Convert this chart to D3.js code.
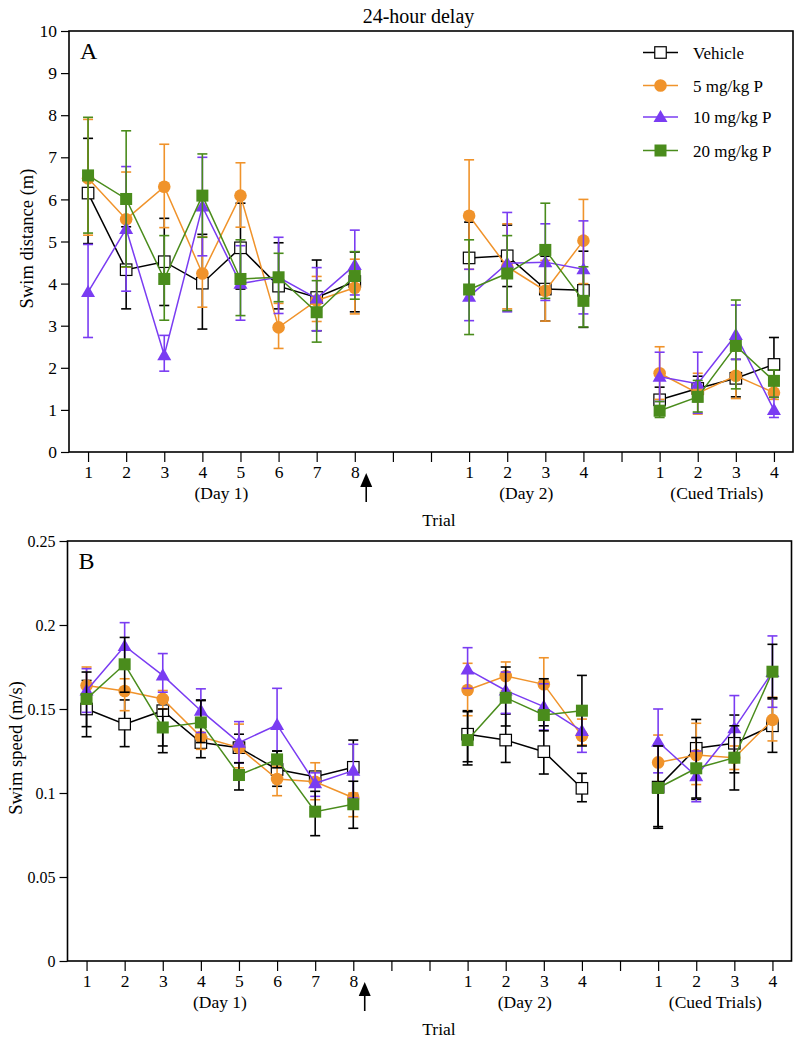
<!DOCTYPE html>
<html><head><meta charset="utf-8">
<script src="https://cdn.jsdelivr.net/npm/d3@7/dist/d3.min.js"></script>
<style>body{margin:0;background:#fff}svg, svg text{font-family:"Liberation Serif","Times New Roman",Times,"DejaVu Serif",serif !important}</style>
</head><body>
<svg id="chart" width="800" height="1043"></svg>
<script>
// ---------- data ----------
const trialLabels = ["1","2","3","4","5","6","7","8","1","2","3","4","1","2","3","4"];
const trialPositions = [1,2,3,4,5,6,7,8,11,12,13,14,16,17,18,19];
const groupLabels = ["(Day 1)","(Day 2)","(Cued Trials)"];
const groupRanges = [[0,8],[8,12],[12,16]];
const seriesNames = ["Vehicle","5 mg/kg P","10 mg/kg P","20 mg/kg P"];
const seriesColors = ["#000000","#f0932b","#7a3cf2","#4a8c1c"];
const distTicks = [0,1,2,3,4,5,6,7,8,9,10];
const speedTicks = [0,0.05,0.1,0.15,0.2,0.25];

// Panel A: swim distance (m)
const distVehicle   = [6.15,4.33,4.52,4.01,4.85,3.94,3.67,4.05, 4.61,4.66,3.87,3.84, 1.24,1.51,1.75,2.08];
const distVehicleHi = [7.45,5.35,5.55,5.17,5.91,4.97,4.56,4.75, 5.46,5.39,4.65,4.77, 1.54,1.80,2.20,2.72];
const distVehicleLo = [4.95,3.40,3.48,2.92,3.87,3.40,2.88,3.33, 3.75,3.93,3.11,2.96, 0.95,1.20,1.31,1.45];
const dist5   = [6.50,5.53,6.30,4.24,6.09,2.96,3.60,3.90, 5.61,4.40,3.83,5.02, 1.87,1.40,1.81,1.41];
const dist5Hi = [7.90,6.65,7.31,5.11,6.87,3.53,4.17,4.58, 6.94,5.42,4.55,6.00, 2.50,1.87,2.40,1.60];
const dist5Lo = [5.15,4.39,5.33,3.44,5.34,2.46,3.10,3.28, 4.34,3.40,3.11,4.00, 1.25,0.90,1.27,1.25];
const dist10   = [3.80,5.30,2.30,5.83,4.00,4.15,3.65,4.44, 3.69,4.48,4.51,4.34, 1.79,1.62,2.78,1.00];
const dist10Hi = [4.93,6.78,2.77,7.00,4.90,5.10,4.38,5.27, 4.34,5.69,5.42,5.49, 2.37,2.37,3.49,1.30];
const dist10Lo = [2.72,3.82,1.92,4.66,3.13,3.29,2.88,3.73, 3.12,3.33,3.60,3.28, 1.20,0.92,2.20,0.82];
const dist20   = [6.57,6.01,4.11,6.09,4.11,4.15,3.32,4.18, 3.86,4.24,4.80,3.59, 0.98,1.31,2.52,1.69];
const dist20Hi = [7.95,7.63,5.14,7.08,5.04,4.72,4.07,4.76, 5.04,5.14,5.91,4.40, 1.20,1.70,3.61,1.95];
const dist20Lo = [5.20,4.40,3.13,5.10,3.24,3.57,2.61,3.63, 2.79,3.36,3.65,2.97, 0.82,0.95,1.50,1.30];

// Panel B: swim speed (m/s)
const speedVehicle   = [0.150,0.141,0.149,0.130,0.127,0.114,0.1097,0.1153, 0.135,0.1315,0.1246,0.1028, 0.1035,0.1266,0.1296,0.140];
const speedVehicleHi = [0.167,0.1554,0.154,0.1554,0.135,0.125,0.112,0.1315, 0.149,0.147,0.140,0.1117, 0.129,0.1438,0.1464,0.156];
const speedVehicleLo = [0.1335,0.1276,0.124,0.121,0.118,0.104,0.105,0.099, 0.1167,0.1182,0.1113,0.0948, 0.079,0.0962,0.1018,0.1242];
const speed5   = [0.164,0.1607,0.156,0.1335,0.127,0.1083,0.1067,0.0972, 0.1613,0.1696,0.1647,0.134, 0.1182,0.1226,0.121,0.1435];
const speed5Hi = [0.175,0.168,0.161,0.141,0.141,0.116,0.118,0.100, 0.1772,0.178,0.1805,0.144, 0.1345,0.1415,0.128,0.157];
const speed5Lo = [0.153,0.149,0.150,0.126,0.115,0.0984,0.096,0.0859, 0.146,0.161,0.149,0.1286, 0.102,0.105,0.114,0.131];
const speed10   = [0.161,0.1875,0.170,0.149,0.130,0.1405,0.1058,0.1133, 0.1736,0.161,0.1514,0.137, 0.1305,0.110,0.1385,0.172];
const speed10Hi = [0.174,0.2014,0.183,0.162,0.1425,0.1623,0.112,0.129, 0.1865,0.172,0.165,0.149, 0.150,0.125,0.158,0.1935];
const speed10Lo = [0.148,0.174,0.160,0.136,0.118,0.120,0.098,0.097, 0.1623,0.1474,0.1375,0.1242, 0.112,0.0948,0.120,0.151];
const speed20   = [0.156,0.1766,0.139,0.142,0.1107,0.120,0.0889,0.0933, 0.1315,0.1567,0.1464,0.149, 0.1030,0.1147,0.121,0.1722];
const speed20Hi = [0.172,0.1926,0.150,0.155,0.118,0.125,0.101,0.107, 0.1484,0.175,0.168,0.170, 0.128,0.133,0.140,0.1885];
const speed20Lo = [0.1395,0.160,0.128,0.130,0.1018,0.115,0.0746,0.079, 0.1186,0.1399,0.137,0.128, 0.080,0.097,0.112,0.1567];

// ---------- drawing ----------
const FONT = "Liberation Serif, Times New Roman, Times, DejaVu Serif, serif";
const FS = 17.5;
const svg = d3.select("#chart").attr("font-family", FONT);
const symbols = ["openSquare","circle","triangle","square"];

function drawMarker(g, type, color, x, y){
  if(type==="openSquare"){
    g.append("rect").attr("x",x-5.75).attr("y",y-5.75).attr("width",11.5).attr("height",11.5)
      .attr("fill","#fff").attr("stroke","#000").attr("stroke-width",1.2);
  } else if(type==="circle"){
    g.append("circle").attr("cx",x).attr("cy",y).attr("r",6.3).attr("fill",color);
  } else if(type==="triangle"){
    const s=d3.symbol().type(d3.symbolTriangle).size(85);
    g.append("path").attr("d",s()).attr("transform",`translate(${x},${y+1})`).attr("fill",color);
  } else {
    g.append("rect").attr("x",x-6).attr("y",y-6).attr("width",12).attr("height",12).attr("fill",color);
  }
}

function panel(opts){
  const {left,right,top,bottom,ymax,ticks,tickFmt,tickFS,ylabel,ylabelX,letter,series,errColors,legend} = opts;
  const x = d3.scaleLinear().domain([0.5,19.5]).range([left,right]);
  const y = d3.scaleLinear().domain([0,ymax]).range([bottom,top]);
  const g = svg.append("g");

  g.append("rect").attr("x",left).attr("y",top).attr("width",right-left).attr("height",bottom-top)
    .attr("fill","none").attr("stroke","#000").attr("stroke-width",1.6);

  const ya = g.append("g").attr("transform",`translate(${left},0)`)
    .call(d3.axisLeft(y).tickValues(ticks).tickFormat(tickFmt).tickSize(8).tickPadding(4));
  ya.attr("font-family",FONT).attr("font-size",tickFS);
  ya.select(".domain").remove();
  ya.selectAll("line").attr("stroke-width",1.2);

  const allPos = d3.range(1,20);
  const xa = g.append("g").attr("transform",`translate(0,${bottom})`)
    .call(d3.axisBottom(x).tickValues(allPos).tickSize(10).tickPadding(4)
      .tickFormat(p => { const i = trialPositions.indexOf(p); return i<0 ? "" : trialLabels[i]; }));
  xa.attr("font-family",FONT).attr("font-size",FS);
  xa.select(".domain").remove();
  xa.selectAll("line").attr("stroke-width",1.2);

  groupRanges.forEach((r,i)=>{
    const cx = (x(trialPositions[r[0]]) + x(trialPositions[r[1]-1]))/2;
    g.append("text").attr("x",cx).attr("y",bottom+47).attr("text-anchor","middle")
      .attr("font-size",FS).text(groupLabels[i]);
  });
  g.append("text").attr("x",439).attr("y",bottom+74).attr("text-anchor","middle")
    .attr("font-size",FS).text("Trial");

  const ax = x(8.3);
  g.append("line").attr("x1",ax).attr("x2",ax).attr("y1",bottom+34).attr("y2",bottom+50)
    .attr("stroke","#000").attr("stroke-width",1.6);
  g.append("path").attr("d",`M${ax-6},${bottom+35} L${ax},${bottom+21} L${ax+6},${bottom+35} Z`).attr("fill","#000");

  g.append("text").attr("transform",`translate(${ylabelX},${(top+bottom)/2-3}) rotate(-90)`)
    .attr("text-anchor","middle").attr("font-size",18.5).text(ylabel);
  g.append("text").attr("x",left+11).attr("y",top+28).attr("font-size",24).text(letter);

  series.forEach((s,si)=>{
    const col = seriesColors[si];
    const ecol = errColors[si];
    const sg = g.append("g");
    s.mean.forEach((m,i)=>{
      const px = x(trialPositions[i]);
      sg.append("line").attr("x1",px).attr("x2",px).attr("y1",y(s.lo[i])).attr("y2",y(s.hi[i]))
        .attr("stroke",ecol).attr("stroke-width",1.6);
      [s.lo[i],s.hi[i]].forEach(v=>{
        sg.append("line").attr("x1",px-5).attr("x2",px+5).attr("y1",y(v)).attr("y2",y(v))
          .attr("stroke",ecol).attr("stroke-width",1.6);
      });
    });
    const line = d3.line().x(d=>x(d.p)).y(d=>y(d.v));
    groupRanges.forEach(r=>{
      const pts = d3.range(r[0],r[1]).map(i=>({p:trialPositions[i],v:s.mean[i]}));
      sg.append("path").attr("d",line(pts)).attr("fill","none").attr("stroke",col).attr("stroke-width",1.5);
    });
    s.mean.forEach((m,i)=> drawMarker(sg, symbols[si], col, x(trialPositions[i]), y(m)));
  });

  if(legend){
    const rows=[52.5,85.5,117,150.5];
    seriesNames.forEach((n,i)=>{
      g.append("line").attr("x1",643).attr("x2",678).attr("y1",rows[i]).attr("y2",rows[i])
        .attr("stroke",seriesColors[i]).attr("stroke-width",1.5);
      drawMarker(g, symbols[i], seriesColors[i], 660.5, rows[i]);
      g.append("text").attr("x",693).attr("y",rows[i]+6).attr("font-size",17).text(n);
    });
  }
}

svg.append("text").attr("x",418.5).attr("y",22.5).attr("text-anchor","middle").attr("font-size",20).text("24-hour delay");

panel({left:69,right:793,top:31,bottom:452,ymax:10,ticks:distTicks,tickFmt:d3.format("d"),tickFS:FS,
  ylabel:"Swim distance (m)",ylabelX:33,letter:"A",legend:true,
  errColors:seriesColors,
  series:[
    {mean:distVehicle,hi:distVehicleHi,lo:distVehicleLo},
    {mean:dist5,hi:dist5Hi,lo:dist5Lo},
    {mean:dist10,hi:dist10Hi,lo:dist10Lo},
    {mean:dist20,hi:dist20Hi,lo:dist20Lo}]});

panel({left:67.5,right:791.5,top:541,bottom:961,ymax:0.25,ticks:speedTicks,tickFmt:d=>d===0?"0":String(d),tickFS:16,
  ylabel:"Swim speed (m/s)",ylabelX:22,letter:"B",legend:false,
  errColors:["#000000","#f0932b","#7a3cf2","#000000"],
  series:[
    {mean:speedVehicle,hi:speedVehicleHi,lo:speedVehicleLo},
    {mean:speed5,hi:speed5Hi,lo:speed5Lo},
    {mean:speed10,hi:speed10Hi,lo:speed10Lo},
    {mean:speed20,hi:speed20Hi,lo:speed20Lo}]});
</script>
</body></html>
